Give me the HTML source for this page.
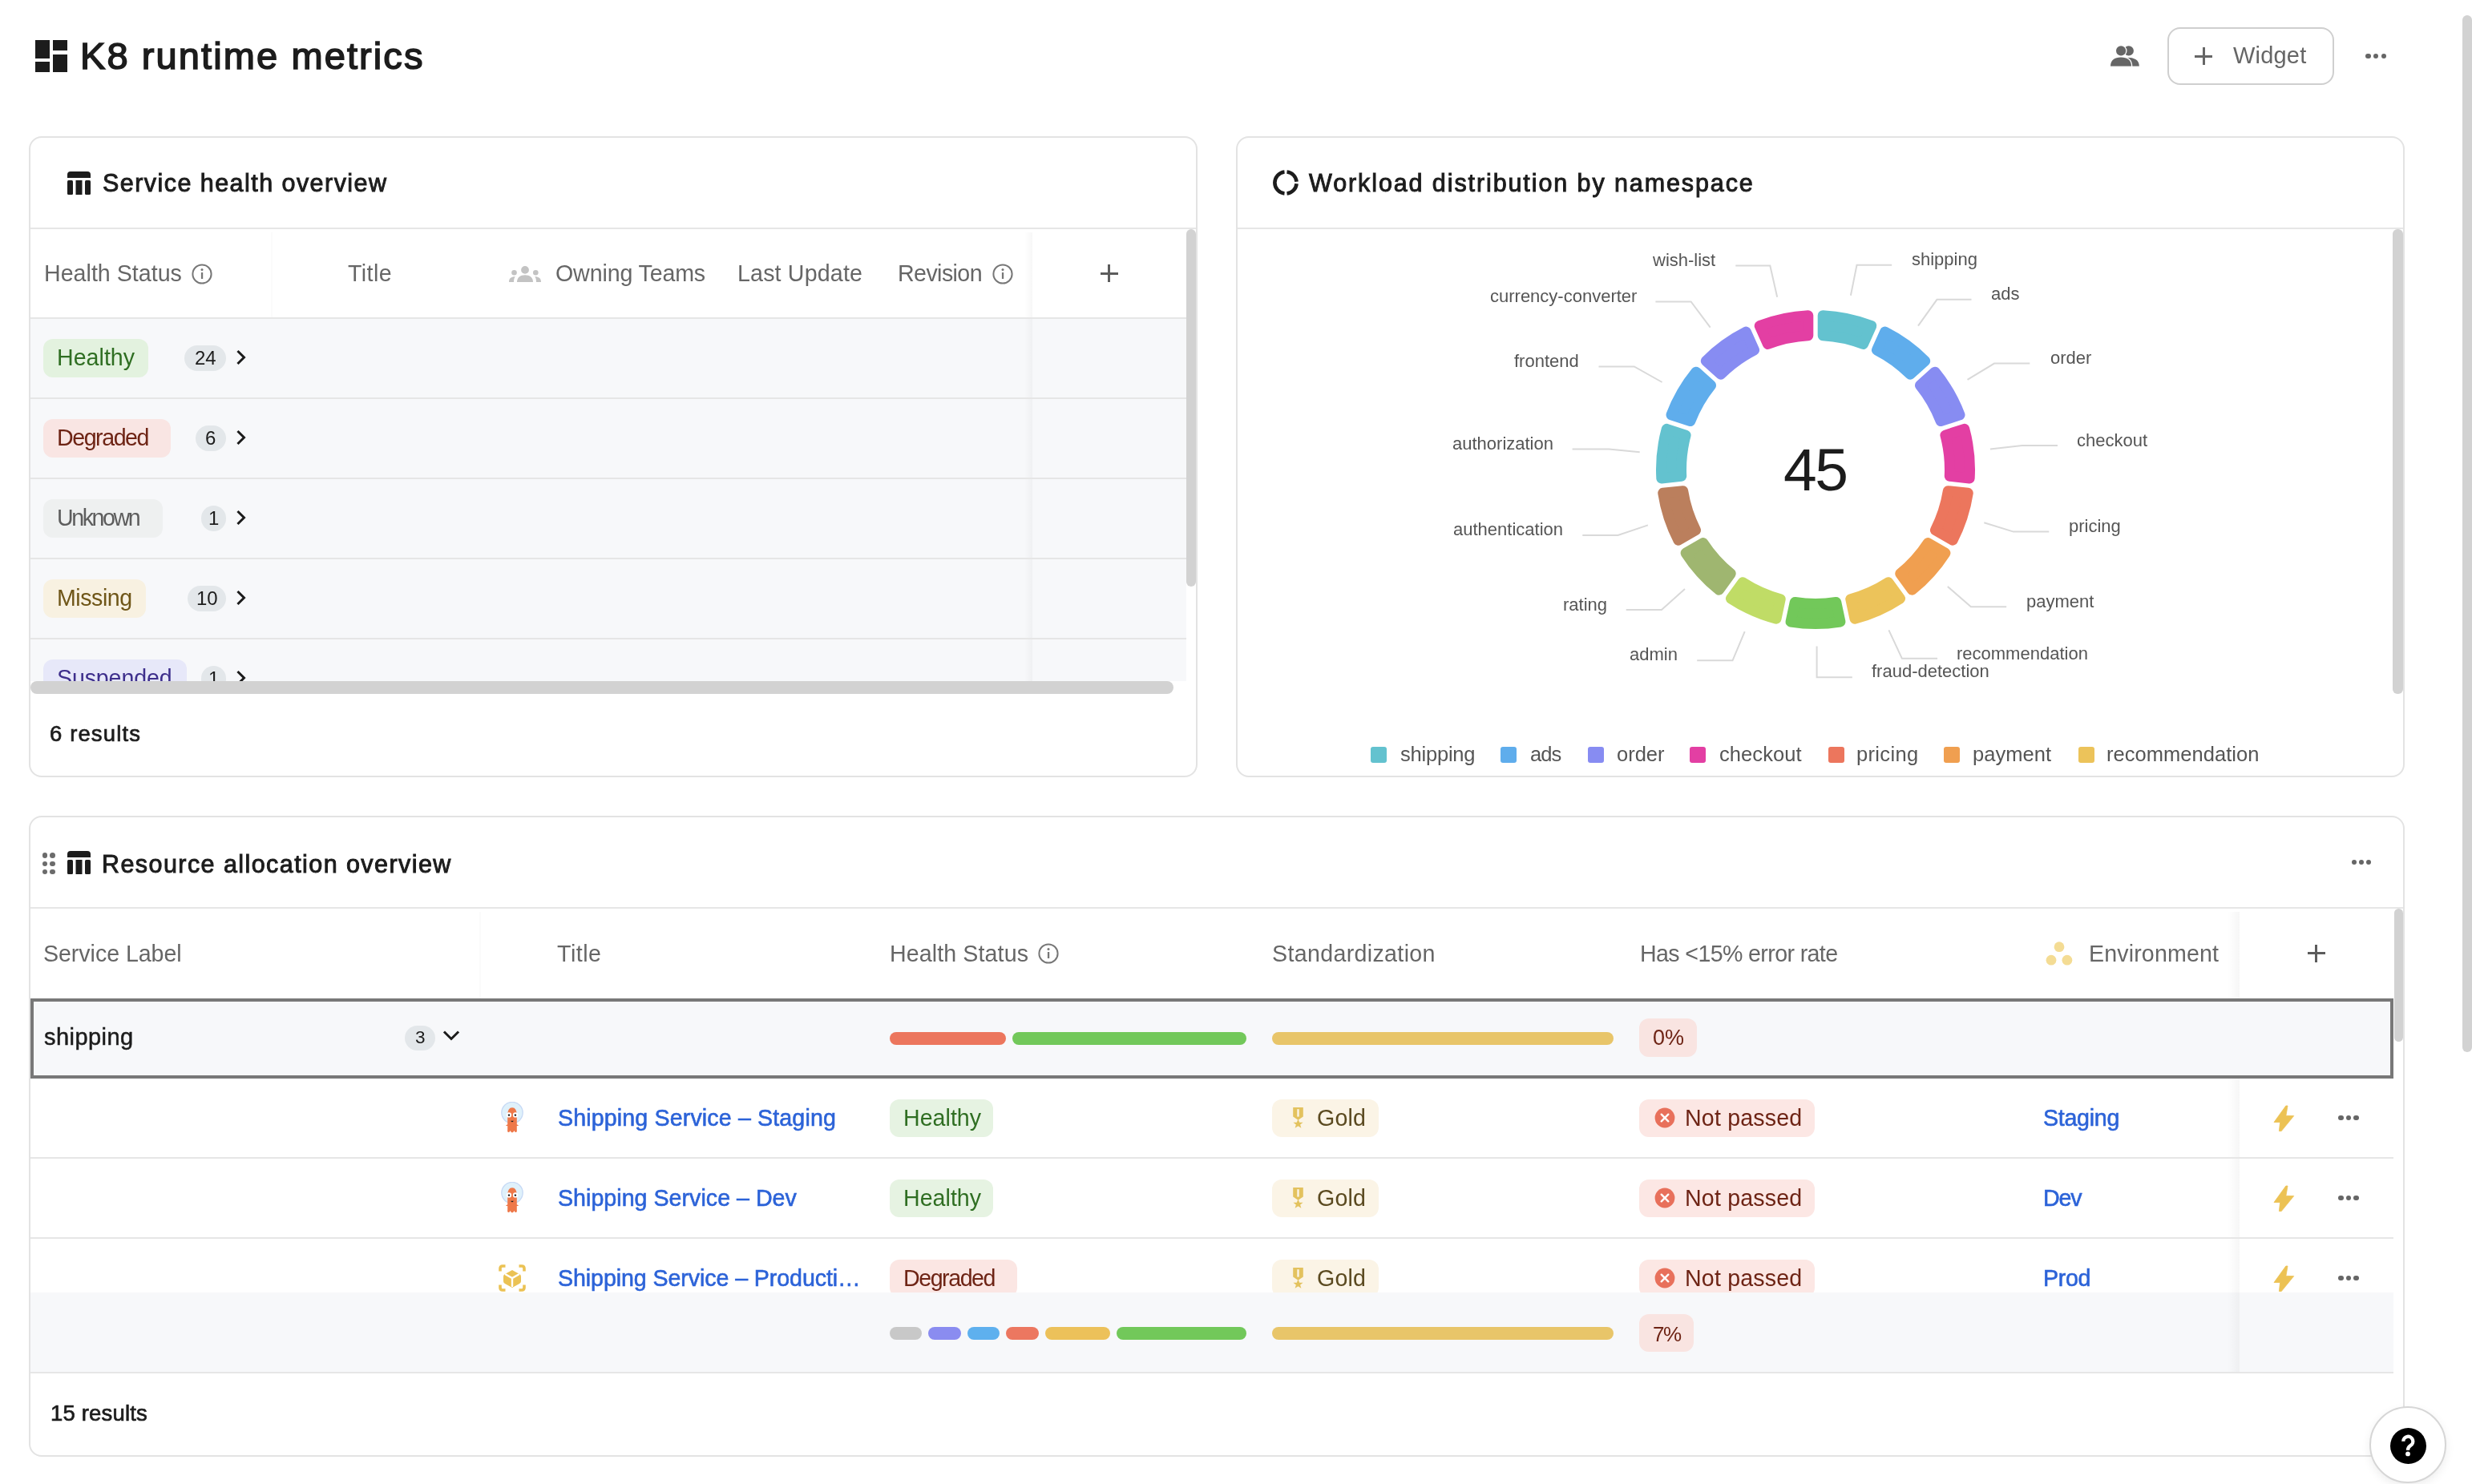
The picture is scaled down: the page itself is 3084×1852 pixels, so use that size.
<!DOCTYPE html>
<html><head><meta charset="utf-8"><title>K8 runtime metrics</title>
<style>
html,body{margin:0;padding:0;background:#ffffff;}
body{width:3084px;height:1852px;position:relative;overflow:hidden;font-family:"Liberation Sans",sans-serif;-webkit-font-smoothing:antialiased;}
.a{position:absolute;}
.t{position:absolute;white-space:nowrap;will-change:transform;}
@media (max-width:2000px){html{zoom:0.5;}}
</style></head><body>
<div class="a" style="left:44px;top:50px;width:18px;height:23px;background:#1c1c1c;border-radius:0px;"></div>
<div class="a" style="left:44px;top:77px;width:18px;height:13px;background:#1c1c1c;border-radius:0px;"></div>
<div class="a" style="left:66px;top:50px;width:18px;height:13px;background:#1c1c1c;border-radius:0px;"></div>
<div class="a" style="left:66px;top:68px;width:18px;height:22px;background:#1c1c1c;border-radius:0px;"></div>
<div class="t" style="left:100.1px;top:46.1px;font-size:47px;line-height:47px;color:#1c1c1c;-webkit-text-stroke:1.6px #1c1c1c;letter-spacing:2.10px;">K8 runtime metrics</div>
<svg class="a" style="left:2630px;top:54px;" width="42" height="32" viewBox="0 0 42 32"><g fill="#666">
<circle cx="25.7" cy="9.4" r="6.2"/>
<path d="M23 17.8 C33 17.8 38.8 21 38.8 28.8 L26 28.8 Z"/>
<circle cx="16.1" cy="9.4" r="6.1" stroke="#fff" stroke-width="2.6"/>
<path d="M3 28.8 C3 21 8 17.5 16 17.5 C24 17.5 29 21 29 28.8 Z" stroke="#fff" stroke-width="2.6"/>
<circle cx="16.1" cy="9.4" r="6.1"/>
<path d="M3 28.8 C3 21 8 17.5 16 17.5 C24 17.5 29 21 29 28.8 Z"/>
<rect x="0" y="28.8" width="42" height="4" fill="#fff"/>
</g></svg>
<div class="a" style="left:2704px;top:34px;width:208px;height:72px;box-sizing:border-box;border:2px solid #cfcfcf;border-radius:16px;background:#fff;"></div>
<div class="a" style="left:2738px;top:68.5px;width:22px;height:3.0px;background:#666;border-radius:0px;"></div>
<div class="a" style="left:2747.5px;top:59px;width:3.0px;height:22px;background:#666;border-radius:0px;"></div>
<div class="t" style="left:2786.0px;top:54.5px;font-size:29px;line-height:29px;color:#666;letter-spacing:0.19px;">Widget</div>
<div class="a" style="left:2951.1px;top:66.5px;width:6.600000000000364px;height:6.599999999999994px;background:#666;border-radius:4px;"></div>
<div class="a" style="left:2960.7999999999997px;top:66.5px;width:6.600000000000364px;height:6.599999999999994px;background:#666;border-radius:4px;"></div>
<div class="a" style="left:2970.5px;top:66.5px;width:6.600000000000364px;height:6.599999999999994px;background:#666;border-radius:4px;"></div>
<div class="a" style="left:3072px;top:19px;width:12px;height:1294px;background:#d2d2d2;border-radius:6px;"></div>
<div class="a" style="left:36px;top:170px;width:1458px;height:800px;box-sizing:border-box;border:2px solid #e3e3e3;border-radius:16px;background:#fff;"></div>
<svg class="a" style="left:83.5px;top:213.5px;" width="30" height="30" viewBox="0 0 30 30"><g fill="#1c1c1c">
<path d="M0 4 Q0 0 4 0 L25 0 Q29 0 29 4 L29 8 L0 8 Z"/>
<rect x="0" y="11" width="7" height="18" rx="1.5"/>
<rect x="10.5" y="11" width="8" height="18"/>
<rect x="22" y="11" width="7" height="18" rx="1.5"/>
</g></svg>
<div class="t" style="left:127.5px;top:213.2px;font-size:30.5px;line-height:30.5px;color:#1c1c1c;-webkit-text-stroke:0.95px #1c1c1c;letter-spacing:1.45px;">Service health overview</div>
<div class="a" style="left:38px;top:284px;width:1454px;height:2px;background:#e6e6e6;border-radius:0px;"></div>
<div class="t" style="left:55.2px;top:326.5px;font-size:28.6px;line-height:28.6px;color:#666666;letter-spacing:0.02px;">Health Status</div>
<svg class="a" style="left:239px;top:329px;" width="26" height="26" viewBox="0 0 26 26"><circle cx="13" cy="13" r="11.6" fill="none" stroke="#777" stroke-width="2"/>
<rect x="11.9" y="11" width="2.3" height="8" fill="#777"/><circle cx="13" cy="7.6" r="1.5" fill="#777"/></svg>
<div class="a" style="left:338px;top:290px;width:2px;height:106px;background:#fbfbfb;border-radius:0px;"></div>
<div class="t" style="left:434.4px;top:326.5px;font-size:28.6px;line-height:28.6px;color:#666666;letter-spacing:0.41px;">Title</div>
<svg class="a" style="left:634px;top:331px;" width="42" height="22" viewBox="0 0 42 22"><g fill="#c3c3c3">
<circle cx="21" cy="5.9" r="4.9"/>
<path d="M11 21 C11 15 15 12.2 21 12.2 C27 12.2 31 15 31 21 Z"/>
<circle cx="7.5" cy="9.3" r="3.3"/>
<path d="M1 21 C1 16.5 3.5 14.3 8.8 14.3 C7.5 16 7 18 7 21 Z"/>
<circle cx="34.3" cy="9.3" r="3.3"/>
<path d="M41 21 C41 16.5 38.5 14.3 33.2 14.3 C34.5 16 35 18 35 21 Z"/>
</g></svg>
<div class="t" style="left:692.5px;top:326.5px;font-size:28.6px;line-height:28.6px;color:#666666;letter-spacing:-0.13px;">Owning Teams</div>
<div class="t" style="left:920.4px;top:326.5px;font-size:28.6px;line-height:28.6px;color:#666666;letter-spacing:0.17px;">Last Update</div>
<div class="t" style="left:1120.4px;top:326.5px;font-size:28.6px;line-height:28.6px;color:#666666;letter-spacing:-0.58px;">Revision</div>
<svg class="a" style="left:1237.5px;top:329px;" width="26" height="26" viewBox="0 0 26 26"><circle cx="13" cy="13" r="11.6" fill="none" stroke="#777" stroke-width="2"/>
<rect x="11.9" y="11" width="2.3" height="8" fill="#777"/><circle cx="13" cy="7.6" r="1.5" fill="#777"/></svg>
<div class="a" style="left:1372.9px;top:339.5px;width:22.0px;height:3.0px;background:#5c5c5c;border-radius:0px;"></div>
<div class="a" style="left:1382.4px;top:330.0px;width:3.0px;height:22.0px;background:#5c5c5c;border-radius:0px;"></div>
<div class="a" style="left:38px;top:396px;width:1442px;height:2px;background:#e6e6e6;border-radius:0px;"></div>
<div class="a" style="left:0;top:398px;width:1480px;height:452px;overflow:hidden">
<div class="a" style="left:38px;top:0px;width:1442px;height:98px;background:#f7f8fa;border-radius:0px;"></div>
<div class="a" style="left:38px;top:98px;width:1442px;height:2px;background:#e6e6e6;border-radius:0px;"></div>
<div class="a" style="left:54px;top:24.5px;width:131.2px;height:48.0px;background:#e3f2df;border-radius:12px;"></div>
<div class="t" style="left:70.5px;top:33.7px;font-size:28.6px;line-height:28.6px;color:#2f6e22;letter-spacing:0.02px;">Healthy</div>
<div class="a" style="left:230.1px;top:33px;width:51.50000000000003px;height:32px;background:#e3e7ea;border-radius:16px;"></div>
<div class="t" style="left:242.5px;top:36.5px;font-size:24px;line-height:24px;color:#1c1c1c;letter-spacing:0.00px;">24</div>
<svg class="a" style="left:292px;top:38px;" width="18" height="20" viewBox="0 0 18 20"><path d="M5.5 3 L12.5 10 L5.5 17" fill="none" stroke="#1c1c1c" stroke-width="3" stroke-linecap="square"/></svg>
<div class="a" style="left:1278px;top:0px;width:10px;height:98px;background:linear-gradient(to right, rgba(0,0,0,0), rgba(0,0,0,0.03));border-radius:0px;"></div>
<div class="a" style="left:38px;top:100px;width:1442px;height:98px;background:#f7f8fa;border-radius:0px;"></div>
<div class="a" style="left:38px;top:198px;width:1442px;height:2px;background:#e6e6e6;border-radius:0px;"></div>
<div class="a" style="left:54px;top:124.5px;width:158.5px;height:48.0px;background:#f9e5e3;border-radius:12px;"></div>
<div class="t" style="left:70.5px;top:133.7px;font-size:28.6px;line-height:28.6px;color:#6e2415;letter-spacing:-1.45px;">Degraded</div>
<div class="a" style="left:243.6px;top:133px;width:38.00000000000003px;height:32px;background:#e3e7ea;border-radius:16px;"></div>
<div class="t" style="left:255.9px;top:136.5px;font-size:24px;line-height:24px;color:#1c1c1c;letter-spacing:0.00px;">6</div>
<svg class="a" style="left:292px;top:138px;" width="18" height="20" viewBox="0 0 18 20"><path d="M5.5 3 L12.5 10 L5.5 17" fill="none" stroke="#1c1c1c" stroke-width="3" stroke-linecap="square"/></svg>
<div class="a" style="left:1278px;top:100px;width:10px;height:98px;background:linear-gradient(to right, rgba(0,0,0,0), rgba(0,0,0,0.03));border-radius:0px;"></div>
<div class="a" style="left:38px;top:200px;width:1442px;height:98px;background:#f7f8fa;border-radius:0px;"></div>
<div class="a" style="left:38px;top:298px;width:1442px;height:2px;background:#e6e6e6;border-radius:0px;"></div>
<div class="a" style="left:54px;top:224.5px;width:148.8px;height:48.0px;background:#eef0f0;border-radius:12px;"></div>
<div class="t" style="left:70.5px;top:233.7px;font-size:28.6px;line-height:28.6px;color:#5d5d5d;letter-spacing:-2.44px;">Unknown</div>
<div class="a" style="left:251.3px;top:233px;width:30.30000000000001px;height:32px;background:#e3e7ea;border-radius:16px;"></div>
<div class="t" style="left:259.8px;top:236.5px;font-size:24px;line-height:24px;color:#1c1c1c;letter-spacing:0.00px;">1</div>
<svg class="a" style="left:292px;top:238px;" width="18" height="20" viewBox="0 0 18 20"><path d="M5.5 3 L12.5 10 L5.5 17" fill="none" stroke="#1c1c1c" stroke-width="3" stroke-linecap="square"/></svg>
<div class="a" style="left:1278px;top:200px;width:10px;height:98px;background:linear-gradient(to right, rgba(0,0,0,0), rgba(0,0,0,0.03));border-radius:0px;"></div>
<div class="a" style="left:38px;top:300px;width:1442px;height:98px;background:#f7f8fa;border-radius:0px;"></div>
<div class="a" style="left:38px;top:398px;width:1442px;height:2px;background:#e6e6e6;border-radius:0px;"></div>
<div class="a" style="left:54px;top:324.5px;width:128px;height:48.0px;background:#f8f1e1;border-radius:12px;"></div>
<div class="t" style="left:70.5px;top:333.7px;font-size:28.6px;line-height:28.6px;color:#6f5618;letter-spacing:-0.47px;">Missing</div>
<div class="a" style="left:234.4px;top:333px;width:47.20000000000002px;height:32px;background:#e3e7ea;border-radius:16px;"></div>
<div class="t" style="left:244.7px;top:336.5px;font-size:24px;line-height:24px;color:#1c1c1c;letter-spacing:0.00px;">10</div>
<svg class="a" style="left:292px;top:338px;" width="18" height="20" viewBox="0 0 18 20"><path d="M5.5 3 L12.5 10 L5.5 17" fill="none" stroke="#1c1c1c" stroke-width="3" stroke-linecap="square"/></svg>
<div class="a" style="left:1278px;top:300px;width:10px;height:98px;background:linear-gradient(to right, rgba(0,0,0,0), rgba(0,0,0,0.03));border-radius:0px;"></div>
<div class="a" style="left:38px;top:400px;width:1442px;height:98px;background:#f7f8fa;border-radius:0px;"></div>
<div class="a" style="left:38px;top:498px;width:1442px;height:2px;background:#e6e6e6;border-radius:0px;"></div>
<div class="a" style="left:54px;top:424.5px;width:178.9px;height:48.0px;background:#e7e8f9;border-radius:12px;"></div>
<div class="t" style="left:70.5px;top:433.7px;font-size:28.6px;line-height:28.6px;color:#3e2f8c;letter-spacing:-0.14px;">Suspended</div>
<div class="a" style="left:251.3px;top:433px;width:30.30000000000001px;height:32px;background:#e3e7ea;border-radius:16px;"></div>
<div class="t" style="left:259.8px;top:436.5px;font-size:24px;line-height:24px;color:#1c1c1c;letter-spacing:0.00px;">1</div>
<svg class="a" style="left:292px;top:438px;" width="18" height="20" viewBox="0 0 18 20"><path d="M5.5 3 L12.5 10 L5.5 17" fill="none" stroke="#1c1c1c" stroke-width="3" stroke-linecap="square"/></svg>
<div class="a" style="left:1278px;top:400px;width:10px;height:98px;background:linear-gradient(to right, rgba(0,0,0,0), rgba(0,0,0,0.03));border-radius:0px;"></div>
</div>
<div class="a" style="left:1278px;top:290px;width:10px;height:106px;background:linear-gradient(to right, rgba(0,0,0,0), rgba(0,0,0,0.03));border-radius:0px;"></div>
<div class="a" style="left:38px;top:850px;width:1426px;height:16px;background:#d2d2d2;border-radius:8px;"></div>
<div class="a" style="left:1480px;top:286px;width:12px;height:446px;background:#d2d2d2;border-radius:6px;"></div>
<div class="t" style="left:62.4px;top:902.2px;font-size:27.5px;line-height:27.5px;color:#1c1c1c;-webkit-text-stroke:0.7px #1c1c1c;letter-spacing:1.12px;">6 results</div>
<div class="a" style="left:1542px;top:170px;width:1458px;height:800px;box-sizing:border-box;border:2px solid #e3e3e3;border-radius:16px;background:#fff;"></div>
<svg class="a" style="left:1586px;top:210px;" width="36" height="36" viewBox="0 0 36 36"><g fill="none" stroke="#1c1c1c" stroke-width="4.6">
<path d="M16.5 4.48 A13.6 13.6 0 0 0 16.5 31.52"/>
<path d="M19.5 4.48 A13.6 13.6 0 0 1 31.55 16.8"/>
<path d="M31.55 19.2 A13.6 13.6 0 0 1 19.5 31.52"/>
</g></svg>
<div class="t" style="left:1633.1px;top:213.2px;font-size:30.5px;line-height:30.5px;color:#1c1c1c;-webkit-text-stroke:0.95px #1c1c1c;letter-spacing:1.90px;">Workload distribution by namespace</div>
<div class="a" style="left:1544px;top:284px;width:1454px;height:2px;background:#e6e6e6;border-radius:0px;"></div>
<div class="a" style="left:2985px;top:286px;width:13px;height:580px;background:#d2d2d2;border-radius:6px;"></div>
<svg class="a" style="left:1542px;top:170px;" width="1458" height="800" viewBox="0 0 1458 800"><polyline points="766.9,198.8 774.5,160.8 818.2,160.8" fill="none" stroke="#d9d9d9" stroke-width="2"/><polyline points="851.0,236.7 874.5,203.8 917.5,203.8" fill="none" stroke="#d9d9d9" stroke-width="2"/><polyline points="912.5,303.8 946.0,283.6 990.3,283.6" fill="none" stroke="#d9d9d9" stroke-width="2"/><polyline points="940.9,390.5 980.8,386.0 1025.0,386.0" fill="none" stroke="#d9d9d9" stroke-width="2"/><polyline points="933.3,482.2 970.0,493.6 1014.3,493.6" fill="none" stroke="#d9d9d9" stroke-width="2"/><polyline points="887.8,561.9 916.9,587.2 961.2,587.2" fill="none" stroke="#d9d9d9" stroke-width="2"/><polyline points="814.4,616.3 830.9,651.8 875.1,651.8" fill="none" stroke="#d9d9d9" stroke-width="2"/><polyline points="724.6,636.6 724.6,675.2 768.8,675.2" fill="none" stroke="#d9d9d9" stroke-width="2"/><polyline points="634.7,618.2 619.5,654.3 575.2,654.3" fill="none" stroke="#d9d9d9" stroke-width="2"/><polyline points="560.0,565.1 531.0,591.0 486.7,591.0" fill="none" stroke="#d9d9d9" stroke-width="2"/><polyline points="513.9,485.4 476.5,498.0 432.3,498.0" fill="none" stroke="#d9d9d9" stroke-width="2"/><polyline points="503.7,394.3 465.2,390.5 419.6,390.5" fill="none" stroke="#d9d9d9" stroke-width="2"/><polyline points="531.6,307.0 496.8,287.4 452.5,287.4" fill="none" stroke="#d9d9d9" stroke-width="2"/><polyline points="591.7,238.6 567.6,206.4 523.4,206.4" fill="none" stroke="#d9d9d9" stroke-width="2"/><polyline points="675.2,200.7 666.3,161.5 623.3,161.5" fill="none" stroke="#d9d9d9" stroke-width="2"/><g transform="translate(-1542 -170)"><path d="M2274.20 393.72 A192.5 192.5 0 0 1 2334.80 406.60 L2324.62 429.47 A167.5 167.5 0 0 0 2274.20 418.75 Z" fill="#63c2cf" stroke="#63c2cf" stroke-width="13.0" stroke-linejoin="round"/><path d="M2351.61 414.09 A192.5 192.5 0 0 1 2401.74 450.50 L2383.13 467.25 A167.5 167.5 0 0 0 2341.43 436.95 Z" fill="#5fadec" stroke="#5fadec" stroke-width="13.0" stroke-linejoin="round"/><path d="M2414.05 464.18 A192.5 192.5 0 0 1 2445.03 517.83 L2421.22 525.57 A167.5 167.5 0 0 0 2395.44 480.93 Z" fill="#878cf2" stroke="#878cf2" stroke-width="13.0" stroke-linejoin="round"/><path d="M2450.71 535.33 A192.5 192.5 0 0 1 2457.19 596.95 L2432.29 594.33 A167.5 167.5 0 0 0 2426.90 543.07 Z" fill="#e33fa3" stroke="#e33fa3" stroke-width="13.0" stroke-linejoin="round"/><path d="M2455.27 615.25 A192.5 192.5 0 0 1 2436.12 674.17 L2414.44 661.66 A167.5 167.5 0 0 0 2430.37 612.63 Z" fill="#ec765d" stroke="#ec765d" stroke-width="13.0" stroke-linejoin="round"/><path d="M2426.92 690.11 A192.5 192.5 0 0 1 2385.46 736.15 L2370.75 715.90 A167.5 167.5 0 0 0 2405.24 677.59 Z" fill="#f09f50" stroke="#f09f50" stroke-width="13.0" stroke-linejoin="round"/><path d="M2370.58 746.97 A192.5 192.5 0 0 1 2313.98 772.17 L2308.77 747.68 A167.5 167.5 0 0 0 2355.86 726.71 Z" fill="#ecc35a" stroke="#ecc35a" stroke-width="13.0" stroke-linejoin="round"/><path d="M2295.98 775.99 A192.5 192.5 0 0 1 2234.02 775.99 L2239.23 751.51 A167.5 167.5 0 0 0 2290.77 751.51 Z" fill="#72c85a" stroke="#72c85a" stroke-width="13.0" stroke-linejoin="round"/><path d="M2216.02 772.17 A192.5 192.5 0 0 1 2159.42 746.97 L2174.14 726.71 A167.5 167.5 0 0 0 2221.23 747.68 Z" fill="#c0dc66" stroke="#c0dc66" stroke-width="13.0" stroke-linejoin="round"/><path d="M2144.54 736.15 A192.5 192.5 0 0 1 2103.08 690.11 L2124.76 677.59 A167.5 167.5 0 0 0 2159.25 715.90 Z" fill="#9fb670" stroke="#9fb670" stroke-width="13.0" stroke-linejoin="round"/><path d="M2093.88 674.17 A192.5 192.5 0 0 1 2074.73 615.25 L2099.63 612.63 A167.5 167.5 0 0 0 2115.56 661.66 Z" fill="#bb7f5d" stroke="#bb7f5d" stroke-width="13.0" stroke-linejoin="round"/><path d="M2072.81 596.95 A192.5 192.5 0 0 1 2079.29 535.33 L2103.10 543.07 A167.5 167.5 0 0 0 2097.71 594.33 Z" fill="#63c2cf" stroke="#63c2cf" stroke-width="13.0" stroke-linejoin="round"/><path d="M2084.97 517.83 A192.5 192.5 0 0 1 2115.95 464.18 L2134.56 480.93 A167.5 167.5 0 0 0 2108.78 525.57 Z" fill="#5fadec" stroke="#5fadec" stroke-width="13.0" stroke-linejoin="round"/><path d="M2128.26 450.50 A192.5 192.5 0 0 1 2178.39 414.09 L2188.57 436.95 A167.5 167.5 0 0 0 2146.87 467.25 Z" fill="#878cf2" stroke="#878cf2" stroke-width="13.0" stroke-linejoin="round"/><path d="M2195.20 406.60 A192.5 192.5 0 0 1 2255.80 393.72 L2255.80 418.75 A167.5 167.5 0 0 0 2205.38 429.47 Z" fill="#e33fa3" stroke="#e33fa3" stroke-width="13.0" stroke-linejoin="round"/></g></svg>
<div class="t" style="left:2384.9px;top:313.1px;font-size:22px;line-height:22px;color:#555555;letter-spacing:0.00px;">shipping</div>
<div class="t" style="left:2483.5px;top:356.1px;font-size:22px;line-height:22px;color:#555555;letter-spacing:0.00px;">ads</div>
<div class="t" style="left:2557.6px;top:435.8px;font-size:22px;line-height:22px;color:#555555;letter-spacing:0.00px;">order</div>
<div class="t" style="left:2591.1px;top:538.9px;font-size:22px;line-height:22px;color:#555555;letter-spacing:0.00px;">checkout</div>
<div class="t" style="left:2581.0px;top:645.8px;font-size:22px;line-height:22px;color:#555555;letter-spacing:0.00px;">pricing</div>
<div class="t" style="left:2527.8px;top:740.1px;font-size:22px;line-height:22px;color:#555555;letter-spacing:0.00px;">payment</div>
<div class="t" style="left:2440.5px;top:804.7px;font-size:22px;line-height:22px;color:#555555;letter-spacing:0.00px;">recommendation</div>
<div class="t" style="left:2334.9px;top:827.4px;font-size:22px;line-height:22px;color:#555555;letter-spacing:0.00px;">fraud-detection</div>
<div class="t" style="left:2032.7px;top:805.9px;font-size:22px;line-height:22px;color:#555555;letter-spacing:0.00px;">admin</div>
<div class="t" style="left:1949.6px;top:743.9px;font-size:22px;line-height:22px;color:#555555;letter-spacing:0.00px;">rating</div>
<div class="t" style="left:1812.6px;top:649.6px;font-size:22px;line-height:22px;color:#555555;letter-spacing:0.00px;">authentication</div>
<div class="t" style="left:1811.6px;top:542.7px;font-size:22px;line-height:22px;color:#555555;letter-spacing:0.00px;">authorization</div>
<div class="t" style="left:1889.1px;top:439.6px;font-size:22px;line-height:22px;color:#555555;letter-spacing:0.00px;">frontend</div>
<div class="t" style="left:1858.6px;top:358.6px;font-size:22px;line-height:22px;color:#555555;letter-spacing:0.00px;">currency-converter</div>
<div class="t" style="left:2061.8px;top:313.7px;font-size:22px;line-height:22px;color:#555555;letter-spacing:0.00px;">wish-list</div>
<div class="t" style="left:2224.5px;top:548.5px;font-size:75px;line-height:75px;color:#1c1c1c;letter-spacing:-2.43px;">45</div>
<div class="a" style="left:1709.8px;top:932px;width:20.0px;height:20px;background:#63c2cf;border-radius:3px;"></div>
<div class="t" style="left:1746.5px;top:929.4px;font-size:25.5px;line-height:25.5px;color:#555555;letter-spacing:-0.21px;">shipping</div>
<div class="a" style="left:1872.4px;top:932px;width:20.0px;height:20px;background:#5fadec;border-radius:3px;"></div>
<div class="t" style="left:1909.0px;top:929.4px;font-size:25.5px;line-height:25.5px;color:#555555;letter-spacing:-0.91px;">ads</div>
<div class="a" style="left:1980.6px;top:932px;width:20.0px;height:20px;background:#878cf2;border-radius:3px;"></div>
<div class="t" style="left:2017.3px;top:929.4px;font-size:25.5px;line-height:25.5px;color:#555555;letter-spacing:-0.01px;">order</div>
<div class="a" style="left:2108.4px;top:932px;width:20.0px;height:20px;background:#e33fa3;border-radius:3px;"></div>
<div class="t" style="left:2145.0px;top:929.4px;font-size:25.5px;line-height:25.5px;color:#555555;letter-spacing:0.08px;">checkout</div>
<div class="a" style="left:2280.5px;top:932px;width:20.0px;height:20px;background:#ec765d;border-radius:3px;"></div>
<div class="t" style="left:2315.9px;top:929.4px;font-size:25.5px;line-height:25.5px;color:#555555;letter-spacing:0.33px;">pricing</div>
<div class="a" style="left:2424.7px;top:932px;width:20.0px;height:20px;background:#f09f50;border-radius:3px;"></div>
<div class="t" style="left:2461.4px;top:929.4px;font-size:25.5px;line-height:25.5px;color:#555555;letter-spacing:0.05px;">payment</div>
<div class="a" style="left:2593px;top:932px;width:20px;height:20px;background:#ecc35a;border-radius:3px;"></div>
<div class="t" style="left:2628.4px;top:929.4px;font-size:25.5px;line-height:25.5px;color:#555555;letter-spacing:0.04px;">recommendation</div>
<div class="a" style="left:36px;top:1018px;width:2964px;height:800px;box-sizing:border-box;border:2px solid #e3e3e3;border-radius:16px;background:#fff;"></div>
<div class="a" style="left:52.7px;top:1064.3999999999999px;width:6.799999999999997px;height:6.800000000000182px;background:#6b6b6b;border-radius:4px;"></div>
<div class="a" style="left:52.7px;top:1074.6px;width:6.799999999999997px;height:6.800000000000182px;background:#6b6b6b;border-radius:4px;"></div>
<div class="a" style="left:52.7px;top:1084.5px;width:6.799999999999997px;height:6.800000000000182px;background:#6b6b6b;border-radius:4px;"></div>
<div class="a" style="left:62.4px;top:1064.3999999999999px;width:6.800000000000004px;height:6.800000000000182px;background:#6b6b6b;border-radius:4px;"></div>
<div class="a" style="left:62.4px;top:1074.6px;width:6.800000000000004px;height:6.800000000000182px;background:#6b6b6b;border-radius:4px;"></div>
<div class="a" style="left:62.4px;top:1084.5px;width:6.800000000000004px;height:6.800000000000182px;background:#6b6b6b;border-radius:4px;"></div>
<svg class="a" style="left:83.5px;top:1061.5px;" width="30" height="30" viewBox="0 0 30 30"><g fill="#1c1c1c">
<path d="M0 4 Q0 0 4 0 L25 0 Q29 0 29 4 L29 8 L0 8 Z"/>
<rect x="0" y="11" width="7" height="18" rx="1.5"/>
<rect x="10.5" y="11" width="8" height="18"/>
<rect x="22" y="11" width="7" height="18" rx="1.5"/>
</g></svg>
<div class="t" style="left:127.3px;top:1062.7px;font-size:30.5px;line-height:30.5px;color:#1c1c1c;-webkit-text-stroke:0.95px #1c1c1c;letter-spacing:1.43px;">Resource allocation overview</div>
<div class="a" style="left:2933.7px;top:1072.5px;width:6.600000000000364px;height:6.599999999999909px;background:#666;border-radius:4px;"></div>
<div class="a" style="left:2942.7px;top:1072.5px;width:6.600000000000364px;height:6.599999999999909px;background:#666;border-radius:4px;"></div>
<div class="a" style="left:2951.7px;top:1072.5px;width:6.600000000000364px;height:6.599999999999909px;background:#666;border-radius:4px;"></div>
<div class="a" style="left:38px;top:1132px;width:2960px;height:2px;background:#e6e6e6;border-radius:0px;"></div>
<div class="a" style="left:2986.5px;top:1134px;width:11.0px;height:166px;background:#d2d2d2;border-radius:6px;"></div>
<div class="t" style="left:54.3px;top:1175.8px;font-size:28.6px;line-height:28.6px;color:#666666;letter-spacing:-0.05px;">Service Label</div>
<div class="a" style="left:598px;top:1138px;width:2px;height:108px;background:#fbfbfb;border-radius:0px;"></div>
<div class="t" style="left:695.0px;top:1175.8px;font-size:28.6px;line-height:28.6px;color:#666666;letter-spacing:0.51px;">Title</div>
<div class="t" style="left:1110.0px;top:1175.8px;font-size:28.6px;line-height:28.6px;color:#666666;letter-spacing:0.11px;">Health Status</div>
<svg class="a" style="left:1295.2px;top:1177px;" width="26" height="26" viewBox="0 0 26 26"><circle cx="13" cy="13" r="11.6" fill="none" stroke="#777" stroke-width="2"/>
<rect x="11.9" y="11" width="2.3" height="8" fill="#777"/><circle cx="13" cy="7.6" r="1.5" fill="#777"/></svg>
<div class="t" style="left:1586.5px;top:1175.8px;font-size:28.6px;line-height:28.6px;color:#666666;letter-spacing:0.34px;">Standardization</div>
<div class="t" style="left:2045.8px;top:1175.8px;font-size:28.6px;line-height:28.6px;color:#666666;letter-spacing:-0.62px;">Has &lt;15% error rate</div>
<svg class="a" style="left:2550px;top:1173px;" width="38" height="34" viewBox="0 0 38 34"><g fill="#f4dc94"><circle cx="19" cy="8.7" r="6.4"/><circle cx="9" cy="25.2" r="6.4"/><circle cx="28.9" cy="25.2" r="6.4"/></g></svg>
<div class="t" style="left:2605.7px;top:1175.8px;font-size:28.6px;line-height:28.6px;color:#666666;letter-spacing:0.14px;">Environment</div>
<div class="a" style="left:2779px;top:1138px;width:14.5px;height:108px;background:linear-gradient(to right, rgba(0,0,0,0), rgba(0,0,0,0.035));border-radius:0px;"></div>
<div class="a" style="left:2878.7px;top:1188.0px;width:22.0px;height:3.0px;background:#5c5c5c;border-radius:0px;"></div>
<div class="a" style="left:2888.2px;top:1178.5px;width:3.0px;height:22.0px;background:#5c5c5c;border-radius:0px;"></div>
<div class="a" style="left:38px;top:1246px;width:2947px;height:99px;background:#f7f8fa;border-radius:0px;"></div>
<div class="a" style="left:38px;top:1246px;width:2948px;height:100px;box-sizing:border-box;border:4px solid #787878;border-radius:0px;background:transparent;"></div>
<div class="t" style="left:54.5px;top:1280.3px;font-size:29px;line-height:29px;color:#1c1c1c;-webkit-text-stroke:0.5px #1c1c1c;letter-spacing:0.45px;">shipping</div>
<div class="a" style="left:505px;top:1279.5px;width:38px;height:31.5px;background:#e3e7ea;border-radius:16px;"></div>
<div class="t" style="left:517.7px;top:1283.9px;font-size:22.5px;line-height:22.5px;color:#1c1c1c;letter-spacing:0.00px;">3</div>
<svg class="a" style="left:550px;top:1282px;" width="26" height="24" viewBox="0 0 26 24"><path d="M5 6.5 L13 14.5 L21 6.5" fill="none" stroke="#1c1c1c" stroke-width="3" stroke-linecap="square"/></svg>
<div class="a" style="left:1110px;top:1288px;width:145px;height:16px;background:#ec765d;border-radius:8px;"></div>
<div class="a" style="left:1263px;top:1288px;width:292px;height:16px;background:#72c85a;border-radius:8px;"></div>
<div class="a" style="left:1586.5px;top:1288px;width:426.5px;height:16px;background:#e8c569;border-radius:8px;"></div>
<div class="a" style="left:2045px;top:1271px;width:72px;height:48px;background:#f9e4e1;border-radius:12px;"></div>
<div class="t" style="left:2061.5px;top:1282.1px;font-size:27px;line-height:27px;color:#6e2415;letter-spacing:-0.02px;">0%</div>
<div class="a" style="left:0;top:1346px;width:2986px;height:267px;overflow:hidden">
<svg class="a" style="left:625px;top:29px;" width="30" height="40" viewBox="0 0 30 40"><circle cx="14" cy="13.6" r="13.2" fill="#dff1fb" stroke="#c6d9f5" stroke-width="1.3"/>
<path d="M8.2 36 L8.2 17 Q8.2 7.2 14 7.2 Q19.8 7.2 19.8 17 L19.8 28.2 Q21.5 29 22 30 L19.8 30 L19.8 35 Q20.3 38 18.5 38 Q17 38 16.5 36 Q15.5 38.4 14 38.4 Q12.5 38.4 11.5 36 Q11 38 9.5 38 Q7.7 38 8.2 35 L8.2 30 L6 30 Q6.5 29 8.2 28.2 Z" fill="#ee7849"/>
<circle cx="9.9" cy="16.4" r="3.2" fill="#fff"/><circle cx="18.1" cy="16.4" r="3.2" fill="#fff"/>
<circle cx="10" cy="16.6" r="1.2" fill="#111"/><circle cx="17.9" cy="16.6" r="1.2" fill="#111"/>
<path d="M12.2 23.8 Q14 26.8 15.8 23.8 Z" fill="#222"/></svg>
<div class="t" style="left:695.5px;top:35.3px;font-size:28.6px;line-height:28.6px;color:#2c63d8;-webkit-text-stroke:0.6px #2c63d8;letter-spacing:0.14px;">Shipping Service – Staging</div>
<div class="a" style="left:1110px;top:25.5px;width:129.4000000000001px;height:47.0px;background:#e6f3e2;border-radius:12px;"></div>
<div class="t" style="left:1127.0px;top:35.3px;font-size:28.6px;line-height:28.6px;color:#2f6e22;letter-spacing:0.02px;">Healthy</div>
<div class="a" style="left:1586.5px;top:25.5px;width:133.0999999999999px;height:47.0px;background:#fbf4e6;border-radius:12px;"></div>
<svg class="a" style="left:1611.5px;top:35px;" width="16" height="28" viewBox="0 0 16 28"><path d="M1.2 1 L13.8 1 L13.8 12.6 L7.5 16.8 L1.2 12.6 Z" fill="#e3c25e"/>
<rect x="6.3" y="3.2" width="2.4" height="9.4" fill="#fbf4e6"/>
<path d="M7.5 15.5 L9.2 19.7 L13.6 19.8 L10.1 22.5 L11.4 26.8 L7.5 24.3 L3.6 26.8 L4.9 22.5 L1.4 19.8 L5.8 19.7 Z" fill="#e3c25e"/></svg>
<div class="t" style="left:1643.0px;top:35.3px;font-size:28.6px;line-height:28.6px;color:#5b4a20;letter-spacing:0.20px;">Gold</div>
<div class="a" style="left:2045px;top:25.5px;width:219px;height:47.0px;background:#fce7e4;border-radius:12px;"></div>
<svg class="a" style="left:2063.9px;top:36px;" width="26" height="26" viewBox="0 0 26 26"><circle cx="13" cy="13" r="12.4" fill="#e8705b"/>
<path d="M8.7 8.7 L17.3 17.3 M17.3 8.7 L8.7 17.3" stroke="#fff" stroke-width="2.4" stroke-linecap="round"/></svg>
<div class="t" style="left:2101.7px;top:35.3px;font-size:28.6px;line-height:28.6px;color:#6e2415;letter-spacing:0.18px;">Not passed</div>
<div class="t" style="left:2548.6px;top:35.3px;font-size:28.6px;line-height:28.6px;color:#2c63d8;-webkit-text-stroke:0.6px #2c63d8;letter-spacing:-0.28px;">Staging</div>
<svg class="a" style="left:2836px;top:32.5px;" width="28" height="34" viewBox="0 0 28 34"><path d="M15.8 1 L18 1 L15.9 13.4 L25.7 13.6 L10.2 32.6 L7.4 32.6 L8.6 21.5 L1 21.5 Z" fill="#ecc254" stroke="#ecc254" stroke-width="0.8" stroke-linejoin="round"/></svg>
<div class="a" style="left:2917.1px;top:45.6px;width:6.800000000000182px;height:6.799999999999997px;background:#666;border-radius:4px;"></div>
<div class="a" style="left:2926.6px;top:45.6px;width:6.800000000000182px;height:6.799999999999997px;background:#666;border-radius:4px;"></div>
<div class="a" style="left:2936.1px;top:45.6px;width:6.800000000000182px;height:6.799999999999997px;background:#666;border-radius:4px;"></div>
<div class="a" style="left:2779px;top:0px;width:14.5px;height:98px;background:linear-gradient(to right, rgba(0,0,0,0), rgba(0,0,0,0.035));border-radius:0px;"></div>
<div class="a" style="left:38px;top:98px;width:2948px;height:2px;background:#e6e6e6;border-radius:0px;"></div>
<svg class="a" style="left:625px;top:129px;" width="30" height="40" viewBox="0 0 30 40"><circle cx="14" cy="13.6" r="13.2" fill="#dff1fb" stroke="#c6d9f5" stroke-width="1.3"/>
<path d="M8.2 36 L8.2 17 Q8.2 7.2 14 7.2 Q19.8 7.2 19.8 17 L19.8 28.2 Q21.5 29 22 30 L19.8 30 L19.8 35 Q20.3 38 18.5 38 Q17 38 16.5 36 Q15.5 38.4 14 38.4 Q12.5 38.4 11.5 36 Q11 38 9.5 38 Q7.7 38 8.2 35 L8.2 30 L6 30 Q6.5 29 8.2 28.2 Z" fill="#ee7849"/>
<circle cx="9.9" cy="16.4" r="3.2" fill="#fff"/><circle cx="18.1" cy="16.4" r="3.2" fill="#fff"/>
<circle cx="10" cy="16.6" r="1.2" fill="#111"/><circle cx="17.9" cy="16.6" r="1.2" fill="#111"/>
<path d="M12.2 23.8 Q14 26.8 15.8 23.8 Z" fill="#222"/></svg>
<div class="t" style="left:695.5px;top:135.3px;font-size:28.6px;line-height:28.6px;color:#2c63d8;-webkit-text-stroke:0.6px #2c63d8;letter-spacing:0.03px;">Shipping Service – Dev</div>
<div class="a" style="left:1110px;top:125.5px;width:129.4000000000001px;height:47.0px;background:#e6f3e2;border-radius:12px;"></div>
<div class="t" style="left:1127.0px;top:135.3px;font-size:28.6px;line-height:28.6px;color:#2f6e22;letter-spacing:0.02px;">Healthy</div>
<div class="a" style="left:1586.5px;top:125.5px;width:133.0999999999999px;height:47.0px;background:#fbf4e6;border-radius:12px;"></div>
<svg class="a" style="left:1611.5px;top:135px;" width="16" height="28" viewBox="0 0 16 28"><path d="M1.2 1 L13.8 1 L13.8 12.6 L7.5 16.8 L1.2 12.6 Z" fill="#e3c25e"/>
<rect x="6.3" y="3.2" width="2.4" height="9.4" fill="#fbf4e6"/>
<path d="M7.5 15.5 L9.2 19.7 L13.6 19.8 L10.1 22.5 L11.4 26.8 L7.5 24.3 L3.6 26.8 L4.9 22.5 L1.4 19.8 L5.8 19.7 Z" fill="#e3c25e"/></svg>
<div class="t" style="left:1643.0px;top:135.3px;font-size:28.6px;line-height:28.6px;color:#5b4a20;letter-spacing:0.20px;">Gold</div>
<div class="a" style="left:2045px;top:125.5px;width:219px;height:47.0px;background:#fce7e4;border-radius:12px;"></div>
<svg class="a" style="left:2063.9px;top:136px;" width="26" height="26" viewBox="0 0 26 26"><circle cx="13" cy="13" r="12.4" fill="#e8705b"/>
<path d="M8.7 8.7 L17.3 17.3 M17.3 8.7 L8.7 17.3" stroke="#fff" stroke-width="2.4" stroke-linecap="round"/></svg>
<div class="t" style="left:2101.7px;top:135.3px;font-size:28.6px;line-height:28.6px;color:#6e2415;letter-spacing:0.18px;">Not passed</div>
<div class="t" style="left:2548.6px;top:135.3px;font-size:28.6px;line-height:28.6px;color:#2c63d8;-webkit-text-stroke:0.6px #2c63d8;letter-spacing:-1.18px;">Dev</div>
<svg class="a" style="left:2836px;top:132.5px;" width="28" height="34" viewBox="0 0 28 34"><path d="M15.8 1 L18 1 L15.9 13.4 L25.7 13.6 L10.2 32.6 L7.4 32.6 L8.6 21.5 L1 21.5 Z" fill="#ecc254" stroke="#ecc254" stroke-width="0.8" stroke-linejoin="round"/></svg>
<div class="a" style="left:2917.1px;top:145.6px;width:6.800000000000182px;height:6.800000000000011px;background:#666;border-radius:4px;"></div>
<div class="a" style="left:2926.6px;top:145.6px;width:6.800000000000182px;height:6.800000000000011px;background:#666;border-radius:4px;"></div>
<div class="a" style="left:2936.1px;top:145.6px;width:6.800000000000182px;height:6.800000000000011px;background:#666;border-radius:4px;"></div>
<div class="a" style="left:2779px;top:100px;width:14.5px;height:98px;background:linear-gradient(to right, rgba(0,0,0,0), rgba(0,0,0,0.035));border-radius:0px;"></div>
<div class="a" style="left:38px;top:198px;width:2948px;height:2px;background:#e6e6e6;border-radius:0px;"></div>
<svg class="a" style="left:622px;top:232px;" width="34" height="34" viewBox="0 0 34 34"><g fill="none" stroke="#ebc254" stroke-width="3.6" stroke-linecap="butt">
<path d="M2 8.5 L2 5 Q2 2 5 2 L8.5 2"/><path d="M25.5 2 L29 2 Q32 2 32 5 L32 8.5"/>
<path d="M2 25.5 L2 29 Q2 32 5 32 L8.5 32"/><path d="M25.5 32 L29 32 Q32 32 32 29 L32 25.5"/></g>
<path d="M17 7 L26 12 Q28 13 28 15 L28 21 Q28 23 26 24 L17 29 L8 24 Q6 23 6 21 L6 15 Q6 13 8 12 Z" fill="#ebc254"/>
<path d="M9 12.5 L17 17 L25 12.5 M17 17 L17 27" fill="none" stroke="#fff" stroke-width="2.4" stroke-linecap="round"/></svg>
<div class="t" style="left:695.5px;top:235.3px;font-size:28.6px;line-height:28.6px;color:#2c63d8;-webkit-text-stroke:0.6px #2c63d8;letter-spacing:-0.08px;">Shipping Service – Producti…</div>
<div class="a" style="left:1110px;top:225.5px;width:158.79999999999995px;height:47.0px;background:#fbe6e3;border-radius:12px;"></div>
<div class="t" style="left:1127.0px;top:235.3px;font-size:28.6px;line-height:28.6px;color:#6e2415;letter-spacing:-1.45px;">Degraded</div>
<div class="a" style="left:1586.5px;top:225.5px;width:133.0999999999999px;height:47.0px;background:#fbf4e6;border-radius:12px;"></div>
<svg class="a" style="left:1611.5px;top:235px;" width="16" height="28" viewBox="0 0 16 28"><path d="M1.2 1 L13.8 1 L13.8 12.6 L7.5 16.8 L1.2 12.6 Z" fill="#e3c25e"/>
<rect x="6.3" y="3.2" width="2.4" height="9.4" fill="#fbf4e6"/>
<path d="M7.5 15.5 L9.2 19.7 L13.6 19.8 L10.1 22.5 L11.4 26.8 L7.5 24.3 L3.6 26.8 L4.9 22.5 L1.4 19.8 L5.8 19.7 Z" fill="#e3c25e"/></svg>
<div class="t" style="left:1643.0px;top:235.3px;font-size:28.6px;line-height:28.6px;color:#5b4a20;letter-spacing:0.20px;">Gold</div>
<div class="a" style="left:2045px;top:225.5px;width:219px;height:47.0px;background:#fce7e4;border-radius:12px;"></div>
<svg class="a" style="left:2063.9px;top:236px;" width="26" height="26" viewBox="0 0 26 26"><circle cx="13" cy="13" r="12.4" fill="#e8705b"/>
<path d="M8.7 8.7 L17.3 17.3 M17.3 8.7 L8.7 17.3" stroke="#fff" stroke-width="2.4" stroke-linecap="round"/></svg>
<div class="t" style="left:2101.7px;top:235.3px;font-size:28.6px;line-height:28.6px;color:#6e2415;letter-spacing:0.18px;">Not passed</div>
<div class="t" style="left:2548.6px;top:235.3px;font-size:28.6px;line-height:28.6px;color:#2c63d8;-webkit-text-stroke:0.6px #2c63d8;letter-spacing:-0.34px;">Prod</div>
<svg class="a" style="left:2836px;top:232.5px;" width="28" height="34" viewBox="0 0 28 34"><path d="M15.8 1 L18 1 L15.9 13.4 L25.7 13.6 L10.2 32.6 L7.4 32.6 L8.6 21.5 L1 21.5 Z" fill="#ecc254" stroke="#ecc254" stroke-width="0.8" stroke-linejoin="round"/></svg>
<div class="a" style="left:2917.1px;top:245.6px;width:6.800000000000182px;height:6.800000000000011px;background:#666;border-radius:4px;"></div>
<div class="a" style="left:2926.6px;top:245.6px;width:6.800000000000182px;height:6.800000000000011px;background:#666;border-radius:4px;"></div>
<div class="a" style="left:2936.1px;top:245.6px;width:6.800000000000182px;height:6.800000000000011px;background:#666;border-radius:4px;"></div>
<div class="a" style="left:2779px;top:200px;width:14.5px;height:98px;background:linear-gradient(to right, rgba(0,0,0,0), rgba(0,0,0,0.035));border-radius:0px;"></div>
</div>
<div class="a" style="left:38px;top:1613px;width:2948px;height:99px;background:#f7f8fa;border-radius:0px;"></div>
<div class="a" style="left:38px;top:1712px;width:2948px;height:2px;background:#e6e6e6;border-radius:0px;"></div>
<div class="a" style="left:1110px;top:1655.5px;width:40px;height:16.0px;background:#c8c8c8;border-radius:8px;"></div>
<div class="a" style="left:1158px;top:1655.5px;width:41px;height:16.0px;background:#8a8cf0;border-radius:8px;"></div>
<div class="a" style="left:1207px;top:1655.5px;width:40px;height:16.0px;background:#5eb0ee;border-radius:8px;"></div>
<div class="a" style="left:1255px;top:1655.5px;width:41px;height:16.0px;background:#ec7760;border-radius:8px;"></div>
<div class="a" style="left:1304px;top:1655.5px;width:81px;height:16.0px;background:#ecc15a;border-radius:8px;"></div>
<div class="a" style="left:1393px;top:1655.5px;width:162px;height:16.0px;background:#72c85a;border-radius:8px;"></div>
<div class="a" style="left:1586.5px;top:1655.5px;width:426.5px;height:16.0px;background:#e8c569;border-radius:8px;"></div>
<div class="a" style="left:2045px;top:1639.5px;width:68px;height:47.0px;background:#f9e4e1;border-radius:12px;"></div>
<div class="t" style="left:2061.5px;top:1651.5px;font-size:26px;line-height:26px;color:#6e2415;letter-spacing:-1.38px;">7%</div>
<div class="a" style="left:2779px;top:1613px;width:14.5px;height:99px;background:linear-gradient(to right, rgba(0,0,0,0), rgba(0,0,0,0.035));border-radius:0px;"></div>
<div class="t" style="left:62.6px;top:1749.9px;font-size:27.5px;line-height:27.5px;color:#1c1c1c;-webkit-text-stroke:0.7px #1c1c1c;letter-spacing:0.17px;">15 results</div>
<div class="a" style="left:2956px;top:1755px;width:96px;height:96px;box-sizing:border-box;border-radius:50%;border:2px solid #d6d6d6;background:#fff;box-shadow:0 4px 12px rgba(0,0,0,0.07)"></div>
<div class="a" style="left:2981.5px;top:1781.5px;width:45px;height:45px;border-radius:50%;background:#000"></div>
<svg class="a" style="left:2980px;top:1780px;" width="48" height="48" viewBox="0 0 48 48"><path d="M18.3 18.8 A6 6 0 1 1 27.2 24 Q24 26.2 24 29.8" fill="none" stroke="#fff" stroke-width="4.3" stroke-linecap="butt"/><circle cx="24" cy="34.4" r="2.9" fill="#fff"/></svg>
</body></html>
